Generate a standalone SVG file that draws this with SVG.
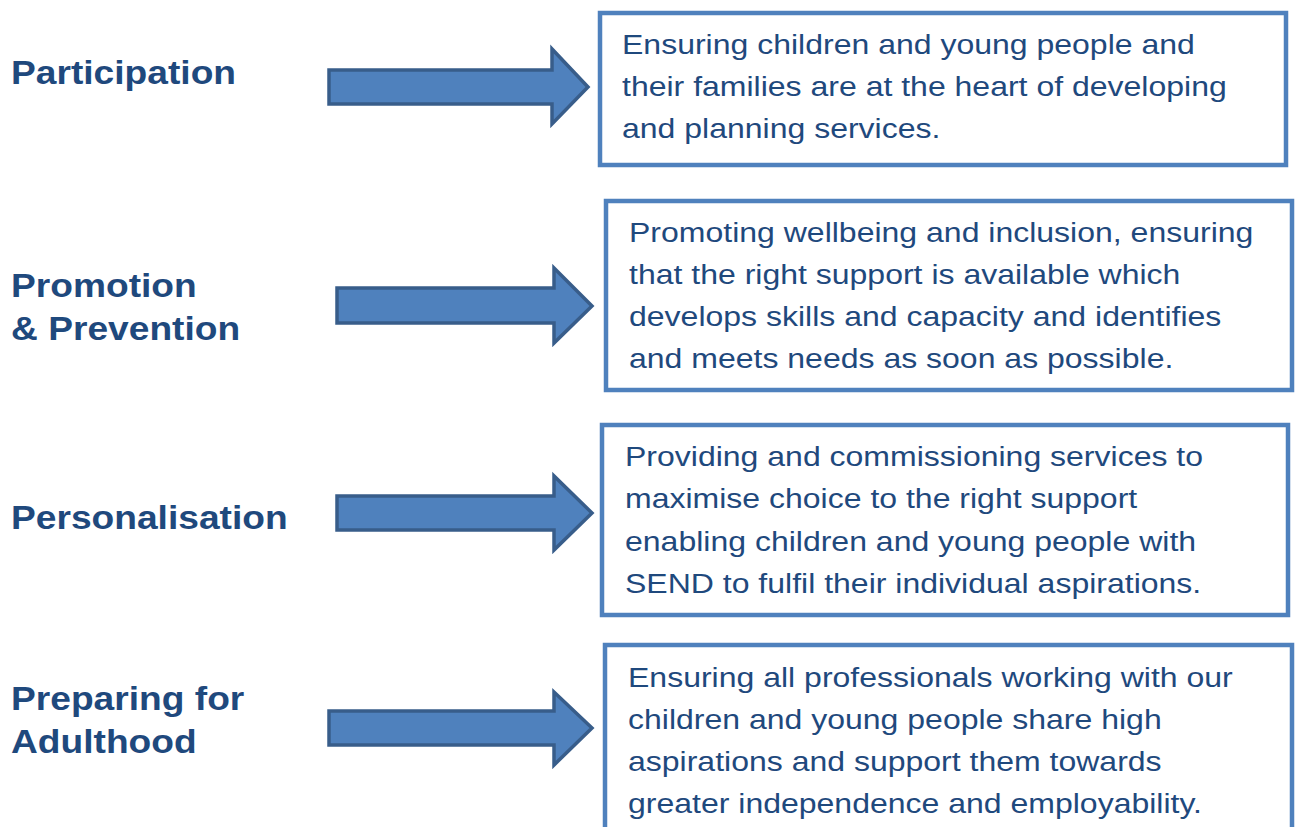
<svg xmlns="http://www.w3.org/2000/svg" width="1298" height="827" viewBox="0 0 1298 827">
<style>
.lbl{font-family:"Liberation Sans",Arial,sans-serif;font-weight:bold;font-size:34px;fill:#1F497D}
.txt{font-family:"Liberation Sans",Arial,sans-serif;font-size:28.5px;fill:#1F497D}
.box{fill:#fff;stroke:#4F81BD;stroke-width:4.5}
.arr{fill:#4F81BD;stroke:#385D8A;stroke-width:3.5;stroke-linejoin:miter}
</style>
<rect width="1298" height="827" fill="#fff"/>
<g id="connectors">
<path class="arr" d="M329,70 H552 V49 L588,87 L552,124 V104 H329 Z"/>
<path class="arr" d="M337,288 H554 V268 L592,306 L554,343 V323 H337 Z"/>
<path class="arr" d="M337,496 H554 V476 L592,513 L554,550 V530 H337 Z"/>
<path class="arr" d="M329,711 H554 V692 L592,728 L554,765 V745 H329 Z"/>
</g>
<g id="n1">
<g transform="translate(11,0) scale(1.093,1)"><text class="lbl" x="0" y="84">Participation</text></g>
<rect class="box" x="600" y="13" width="686" height="152"/>
<g transform="translate(622,0) scale(1.123,1)">
<text class="txt" x="0" y="54">Ensuring children and young people and</text>
<text class="txt" x="0" y="96">their families are at the heart of developing</text>
<text class="txt" x="0" y="138">and planning services.</text>
</g>
</g>
<g id="n2">
<g transform="translate(11,0) scale(1.093,1)">
<text class="lbl" x="0" y="297">Promotion</text>
<text class="lbl" x="0" y="340">&amp; Prevention</text>
</g>
<rect class="box" x="606" y="201" width="686" height="189"/>
<g transform="translate(629,0) scale(1.123,1)">
<text class="txt" x="0" y="242">Promoting wellbeing and inclusion, ensuring</text>
<text class="txt" x="0" y="284">that the right support is available which</text>
<text class="txt" x="0" y="326">develops skills and capacity and identifies</text>
<text class="txt" x="0" y="368">and meets needs as soon as possible.</text>
</g>
</g>
<g id="n3">
<g transform="translate(11,0) scale(1.093,1)"><text class="lbl" x="0" y="529">Personalisation</text></g>
<rect class="box" x="602" y="425" width="686" height="190"/>
<g transform="translate(625,0) scale(1.123,1)">
<text class="txt" x="0" y="466">Providing and commissioning services to</text>
<text class="txt" x="0" y="508">maximise choice to the right support</text>
<text class="txt" x="0" y="551">enabling children and young people with</text>
<text class="txt" x="0" y="593">SEND to fulfil their individual aspirations.</text>
</g>
</g>
<g id="n4">
<g transform="translate(11,0) scale(1.093,1)">
<text class="lbl" x="0" y="710">Preparing for</text>
<text class="lbl" x="0" y="753">Adulthood</text>
</g>
<rect class="box" x="605" y="645" width="687" height="200"/>
<g transform="translate(628,0) scale(1.123,1)">
<text class="txt" x="0" y="687">Ensuring all professionals working with our</text>
<text class="txt" x="0" y="729">children and young people share high</text>
<text class="txt" x="0" y="771">aspirations and support them towards</text>
<text class="txt" x="0" y="813">greater independence and employability.</text>
</g>
</g>
</svg>
